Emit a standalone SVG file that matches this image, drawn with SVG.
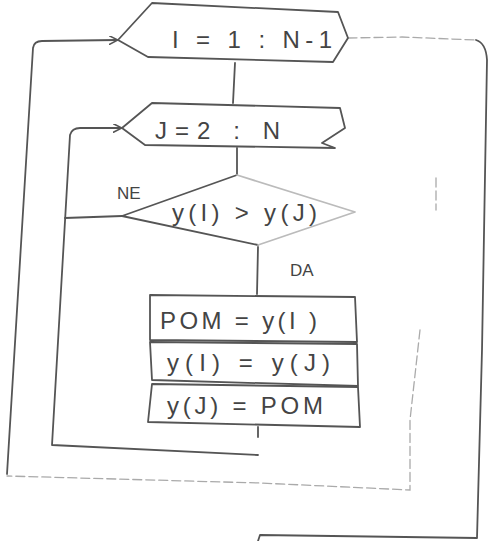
<svg xmlns="http://www.w3.org/2000/svg" width="493" height="541" viewBox="0 0 493 541">
<style>
.s{fill:none;stroke:#555;stroke-width:1.8;stroke-linecap:round;stroke-linejoin:round}
.f{fill:none;stroke:#aaa;stroke-width:1.3;stroke-dasharray:9 4;stroke-linecap:round}
.t{font-family:"Liberation Sans",Arial,sans-serif;fill:#444;font-size:24px}
.sm{font-size:17px}
</style>
<defs>
<marker id="v" viewBox="0 0 10 10" refX="9" refY="5" markerWidth="9" markerHeight="9" orient="auto" markerUnits="userSpaceOnUse">
<path d="M0,0 L10,5 L0,10" fill="none" stroke="#555" stroke-width="1.8"/>
</marker>
</defs>
<rect width="493" height="541" fill="#fff"/>
<g id="connectors">
<path class="s" d="M235,63 L233,103"/>
<path class="s" d="M237,148 L237,175"/>
<path class="s" d="M258,247 L257,294"/>
<path class="s" d="M258,427 L258,437"/>
<path class="s" d="M258,455 L52,445 L70,135 Q72,128 80,128 L121,128" marker-end="url(#v)"/>
<path class="s" d="M122,216 L65,218"/>
<path class="f" d="M436,178 L436,210 M420,330 L410,420 L410,490 L260,483 L7,476"/>
<path class="s" d="M7,474 L33,48 Q34,41 42,41 L117,40" marker-end="url(#v)"/>
<path class="f" d="M348,38 L402,37 L476,40"/>
<path class="s" d="M476,40 Q486,43 487,60 L482,350 L477,538 L260,535 L258,541"/>
</g>
<g id="loopI">
<path class="s" d="M118,40 L152,3 L338,12 L348,38 L333,62 L148,57 Z"/>
<text class="t" x="172" y="48" textLength="160" lengthAdjust="spacing">I = 1 : N-1</text>
</g>
<g id="loopJ">
<path class="s" d="M122,128 L152,103 L340,108 L345,128 L322,143 L335,148 L145,145 Z"/>
<text class="t" x="155" y="139" textLength="125" lengthAdjust="spacing">J=2 : N</text>
</g>
<g id="decision">
<path class="s" d="M237,175 L122,216 L258,245" />
<path class="s" d="M237,175 L355,212 L258,245" stroke="#bbb" style="stroke:#bbb"/>
<text class="t sm" x="117" y="199">NE</text>
<text class="t" x="172" y="221" textLength="145" lengthAdjust="spacing">y(I) &gt; y(J)</text>
<text class="t sm" x="290" y="276">DA</text>
</g>
<g id="box1">
<path class="s" d="M150,295 L355,297 L357,342 L150,340 Z"/>
<text class="t" x="160" y="329" textLength="157" lengthAdjust="spacing">POM = y(I )</text>
</g>
<g id="box2">
<path class="s" d="M150,342 L357,344 L358,386 L152,380 Z"/>
<text class="t" x="167" y="371" textLength="163" lengthAdjust="spacing">y(I) = y(J)</text>
</g>
<g id="box3">
<path class="s" d="M152,384 L358,387 L360,427 L148,422 Z"/>
<text class="t" x="167" y="414" textLength="156" lengthAdjust="spacing">y(J) = POM</text>
</g>
</svg>
